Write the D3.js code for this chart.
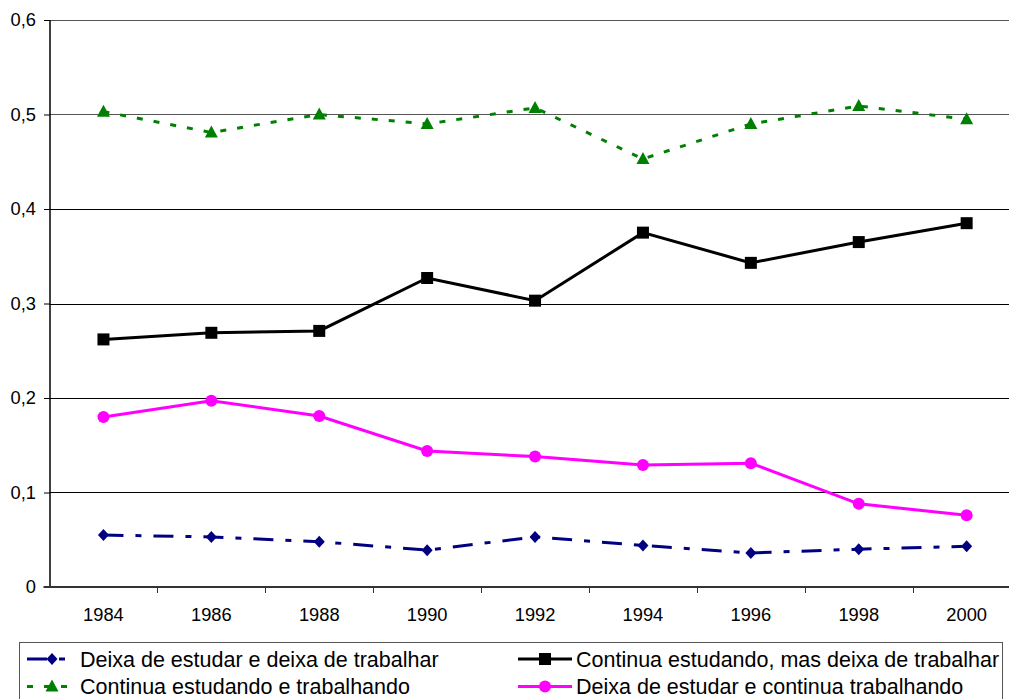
<!DOCTYPE html>
<html>
<head>
<meta charset="utf-8">
<script src="https://cdn.jsdelivr.net/npm/d3@7"></script>
<style>
  html, body { margin: 0; padding: 0; background: #fff; }
  svg { display: block; font-family: "Liberation Sans", Arial, sans-serif; }
</style>
</head>
<body>
<svg id="chart" width="1009" height="699"></svg>
<script>
// Anos da série
const years = ["1984", "1986", "1988", "1990", "1992", "1994", "1996", "1998", "2000"];
const yTicks = [0, 0.1, 0.2, 0.3, 0.4, 0.5, 0.6];

// Probabilidades de transição por ano
const deixaEstudarDeixaTrabalhar = [0.055, 0.053, 0.048, 0.039, 0.053, 0.044, 0.036, 0.040, 0.043];
const continuaEstudandoDeixaTrabalhar = [0.262, 0.269, 0.271, 0.327, 0.303, 0.375, 0.343, 0.365, 0.385];
const continuaEstudandoTrabalhando = [0.503, 0.481, 0.500, 0.490, 0.507, 0.453, 0.490, 0.509, 0.495];
const deixaEstudarContinuaTrabalhando = [0.180, 0.197, 0.181, 0.144, 0.138, 0.129, 0.131, 0.088, 0.076];

const series = [
  { name: "Deixa de estudar e deixa de trabalhar", values: deixaEstudarDeixaTrabalhar,
    color: "#000080", dash: "20,12,6,12", marker: "diamond" },
  { name: "Continua estudando, mas deixa de trabalhar", values: continuaEstudandoDeixaTrabalhar,
    color: "#000000", dash: null, marker: "square" },
  { name: "Continua estudando e trabalhando", values: continuaEstudandoTrabalhando,
    color: "#008000", dash: "6,11", marker: "triangle" },
  { name: "Deixa de estudar e continua trabalhando", values: deixaEstudarContinuaTrabalhando,
    color: "#ff00ff", dash: null, marker: "circle" }
];

const svg = d3.select("#chart");
const plotLeft = 49.5, plotRight = 1020.6, plotTop = 20, plotBottom = 587;

const x = d3.scaleBand().domain(years).range([plotLeft, plotRight]).padding(0);
const y = d3.scaleLinear().domain([0, 0.6]).range([plotBottom, plotTop]);
const cx = d => x(d) + x.bandwidth() / 2;

// Linhas de grade
svg.append("g").selectAll("line").data(yTicks.filter(t => t > 0)).join("line")
  .attr("x1", plotLeft).attr("x2", 1009)
  .attr("y1", d => Math.round(y(d)) + 0.5).attr("y2", d => Math.round(y(d)) + 0.5)
  .attr("stroke", d => d >= 0.5 ? "#555" : "#000").attr("stroke-width", 1);

// Eixo Y
const yAxis = d3.axisLeft(y).tickValues(yTicks).tickSize(6).tickPadding(8)
  .tickFormat(d => d === 0 ? "0" : d3.format(".1f")(d).replace(".", ","));
const gy = svg.append("g").attr("transform", `translate(${Math.round(plotLeft)},0)`).call(yAxis);
gy.select(".domain").attr("stroke", "#000").attr("stroke-width", 1.5).attr("d", `M0,${plotTop}V${plotBottom}`);
gy.selectAll(".tick line").attr("stroke", "#000");
gy.selectAll(".tick text").attr("font-size", 18.3).attr("fill", "#000")
  .attr("font-family", "Liberation Sans, Arial, sans-serif");

// Eixo X (marcas nas fronteiras das categorias)
const xAxis = d3.axisBottom(x).tickSize(0).tickPadding(21);
const gx = svg.append("g").attr("transform", `translate(0,${plotBottom})`).call(xAxis);
gx.select(".domain").attr("stroke", "#333").attr("stroke-width", 2).attr("d", `M${plotLeft - 6},0H1009`);
gx.selectAll(".tick text").attr("font-size", 18.3).attr("fill", "#000")
  .attr("font-family", "Liberation Sans, Arial, sans-serif");
const bounds = years.map(d => x(d)).concat([plotRight]);
gx.append("g").selectAll("line").data(bounds.slice(1)).join("line")
  .attr("x1", d => Math.round(d) + 0.5).attr("x2", d => Math.round(d) + 0.5)
  .attr("y1", 0).attr("y2", 6).attr("stroke", "#333").attr("stroke-width", 1);

// Marcadores
function markerPath(type) {
  switch (type) {
    case "diamond": return "M0,-6L5.5,0L0,6L-5.5,0Z";
    case "square": return "M-6,-6H6V6H-6Z";
    case "triangle": return "M0,-7L6.5,5H-6.5Z";
    case "circle": return d3.symbol(d3.symbolCircle, Math.PI * 36)();
  }
}

const line = d3.line().x((d, i) => cx(years[i])).y(d => y(d));

series.forEach(s => {
  const g = svg.append("g");
  g.append("path").datum(s.values)
    .attr("d", line).attr("fill", "none")
    .attr("stroke", s.color).attr("stroke-width", 3)
    .attr("stroke-dasharray", s.dash);
  g.selectAll("path.m").data(s.values).join("path").attr("class", "m")
    .attr("d", markerPath(s.marker))
    .attr("transform", (d, i) => `translate(${cx(years[i])},${y(d)})`)
    .attr("fill", s.color);
});

// Legenda
const legend = svg.append("g");
legend.append("rect").attr("x", 19.5).attr("y", 642.5).attr("width", 983).attr("height", 70)
  .attr("fill", "#fff").attr("stroke", "#555").attr("stroke-width", 1);

const legendPos = [
  { x0: 27, x1: 77, tx: 80, cy: 659 },
  { x0: 518, x1: 572, tx: 576, cy: 659 },
  { x0: 27, x1: 77, tx: 80, cy: 686.5 },
  { x0: 518, x1: 572, tx: 576, cy: 686.5 }
];

series.forEach((s, i) => {
  const p = legendPos[i];
  const g = legend.append("g");
  g.append("line").attr("x1", p.x0).attr("x2", p.x1).attr("y1", p.cy).attr("y2", p.cy)
    .attr("stroke", s.color).attr("stroke-width", 3).attr("stroke-dasharray", s.dash);
  g.append("path").attr("d", markerPath(s.marker))
    .attr("transform", `translate(${(p.x0 + p.x1) / 2},${p.cy})`).attr("fill", s.color);
  g.append("text").attr("x", p.tx).attr("y", p.cy).attr("dy", "0.35em")
    .attr("font-size", 21.5).attr("fill", "#000").text(s.name);
});
</script>
</body>
</html>
